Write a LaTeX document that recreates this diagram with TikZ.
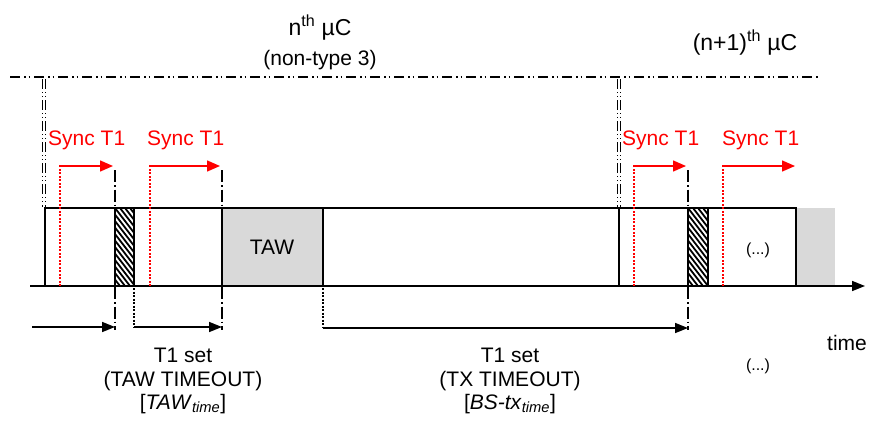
\documentclass[tikz,border=0pt]{standalone}
\usepackage{fontspec}
\setmainfont{Liberation Sans}
\usetikzlibrary{arrows.meta}
\begin{document}
\begin{tikzpicture}[x=1pt,y=-1pt,
  txt/.style={font=\fontsize{21}{25}\selectfont, inner sep=0pt},
  ttl/.style={font=\fontsize{23}{27}\selectfont, inner sep=0pt},
  small/.style={font=\fontsize{16}{18}\selectfont, inner sep=0pt},
  sync/.style={txt, text=red, anchor=west},
  redarrow/.style={red, line width=1.4pt, -{Triangle[length=13pt,width=11pt]}},
  reddot/.style={red, line width=1.3pt, dash pattern=on 2pt off 1.5pt},
  dashdot/.style={line width=1.5pt, dash pattern=on 12pt off 3pt on 1.5pt off 3pt},
  blkdot/.style={line width=1.5pt, dash pattern=on 2pt off 1.5pt},
  blkarrow/.style={line width=1.6pt, -{Triangle[length=13pt,width=10pt]}},
  ddline/.style={line width=1.4pt, dash pattern=on 10pt off 4pt on 1.5pt off 3pt on 1.5pt off 4pt},
  frame/.style={line width=1.6pt},
  grayfill/.style={fill=black!15}
]
\useasboundingbox (0,0) rectangle (869,420);

% titles
\node[ttl] (t1) at (320,28) {n\textsuperscript{th} µC};
\node[txt] (t1b) at (320,60) {(non-type 3)};
\node[ttl] (t2) at (745,43) {(n+1)\textsuperscript{th} µC};

% top dash-dot-dot line
\coordinate (tl) at (10,77);
\coordinate (tr) at (820,77);
\draw[ddline] (tl) -- (tr);

% double vertical separators
\foreach \x in {42,45,617,620}{
  \draw[line width=1pt, dash pattern=on 10pt off 3pt on 1pt off 3pt on 1pt off 3pt] (\x,79) -- (\x,207);
}

% gray rects
\draw[grayfill, frame] (222,208) rectangle (323,286);
\node[txt] (taw) at (272,247) {TAW};
\fill[black!15] (796,208) rectangle (835,286);

% main box
\draw[frame] (45,286) -- (45,208) -- (796,208) -- (796,286);
\draw[frame] (619,208) -- (619,286);

% hatched rects
\foreach \a/\b in {115/134,688/708}{
  \begin{scope}
    \clip (\a,208) rectangle (\b,286);
    \foreach \k in {-40,-35,...,120}{
      \draw[line width=1.8pt] (\a+\k-30,208) -- (\a+\k+30,286);
    }
  \end{scope}
  \draw[frame] (\a,208) rectangle (\b,286);
}

\node[small] (dots1) at (758,250) {(...)};

% axis
\coordinate (ax0) at (30,286);
\coordinate (ax1) at (865,286);
\draw[blkarrow] (ax0) -- (ax1);
\node[txt] (time) at (847,343) {time};

% dash-dot verticals
\foreach \x in {115,222,688}{
  \draw[dashdot] (\x,170) -- (\x,330);
}
% dotted verticals
\draw[blkdot] (134,288) -- (134,327);
\draw[blkdot] (323,288) -- (323,328);

% red sync arrows
\foreach \s/\e in {60/113,150/220,634/686,723/795}{
  \draw[reddot] (\s,286) -- (\s,166);
  \draw[redarrow] (\s-0.6,166) -- (\e,166);
}
\node[sync] (s1) at (48,140) {Sync T1};
\node[sync] (s2) at (147,140) {Sync T1};
\node[sync] (s3) at (622,140) {Sync T1};
\node[sync] (s4) at (722,140) {Sync T1};

% bottom arrows
\coordinate (b0) at (32,327);
\coordinate (b1) at (115,327);
\coordinate (b2) at (134,327);
\coordinate (b3) at (222,327);
\coordinate (b4) at (323,328);
\coordinate (b5) at (688,328);
\draw[blkarrow] (b0) -- (b1);
\draw[blkarrow] (b2) -- (b3);
\draw[blkarrow] (b4) -- (b5);

% labels
\node[txt] (l1a) at (183,355) {T1 set};
\node[txt] (l1b) at (183,381) {(TAW TIMEOUT)};
\node[txt] (l1c) at (183,404) {[\textit{TAW}\textsubscript{\textit{time}}]};
\node[txt] (l2a) at (510,355) {T1 set};
\node[txt] (l2b) at (510,381) {(TX TIMEOUT)};
\node[txt] (l2c) at (510,404) {[\textit{BS-tx}\textsubscript{\textit{time}}]};
\node[small] (dots2) at (758,366) {(...)};
\end{tikzpicture}
\end{document}
